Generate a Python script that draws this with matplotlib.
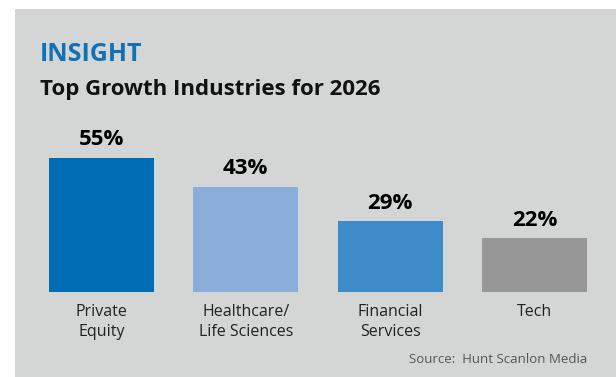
import matplotlib.pyplot as plt
from matplotlib.patches import Rectangle

# growth industries survey
industries = ['Private\nEquity', 'Healthcare/\nLife Sciences', 'Financial\nServices', 'Tech']
shares = [55, 43, 29, 22]
bar_colors = ['#006db5', '#8aadda', '#3d8bc8', '#979798']

W, H = 616, 377
fig = plt.figure(figsize=(W / 100, H / 100), dpi=100)
fig.patch.set_facecolor('white')

# gray panel behind everything
fig.add_artist(Rectangle((15 / W, 0), 1, 1 - 9 / H, transform=fig.transFigure,
                         facecolor='#d4d5d5', edgecolor='none', zorder=0))

fig.text(40 / W, 1 - 61 / H, 'INSIGHT', color='#0f72b8', fontsize=18,
         fontweight='bold', family='Open Sans', va='baseline')
fig.text(40 / W, 1 - 95 / H, 'Top Growth Industries for 2026', color='#111111',
         fontsize=16, fontweight='bold', family='Open Sans', va='baseline')

# axes: x from 29 to 607 px (4 slots of 144.5), value 0 at y=292
left, right = 29, 607
zero = 292
ymin = -1.5
scale = 2.44  # px per percent
ax_bottom = zero - ymin * scale
ax_top = 100
ax = fig.add_axes([left / W, 1 - ax_bottom / H, (right - left) / W, (ax_bottom - ax_top) / H])
ax.set_facecolor('none')
x = range(len(shares))
ax.bar(x, shares, width=0.727, color=bar_colors, zorder=2)
ax.set_xlim(-0.5, 3.5)
ax.set_ylim(ymin, ymin + (ax_bottom - ax_top) / scale)
for xi, v in zip(x, shares):
    ax.annotate(f'{v}%', (xi, v), xytext=(0, 5.5), textcoords='offset points',
                ha='center', va='bottom', fontsize=16, fontweight='bold',
                family='Open Sans', color='black')
ax.set_xticks(list(x))
ax.set_xticklabels(industries, fontsize=11.5, family='Open Sans', color='#222222',
                   linespacing=1.35, va='top')
ax.tick_params(axis='x', length=0, pad=6)
ax.set_yticks([])
for s in ax.spines.values():
    s.set_visible(False)

fig.text(587 / W, 1 - 363 / H, 'Source:  Hunt Scanlon Media', color='#555555',
         fontsize=9.5, family='Open Sans', ha='right', va='baseline')

fig.savefig('out.png', dpi=100, facecolor=fig.get_facecolor())
